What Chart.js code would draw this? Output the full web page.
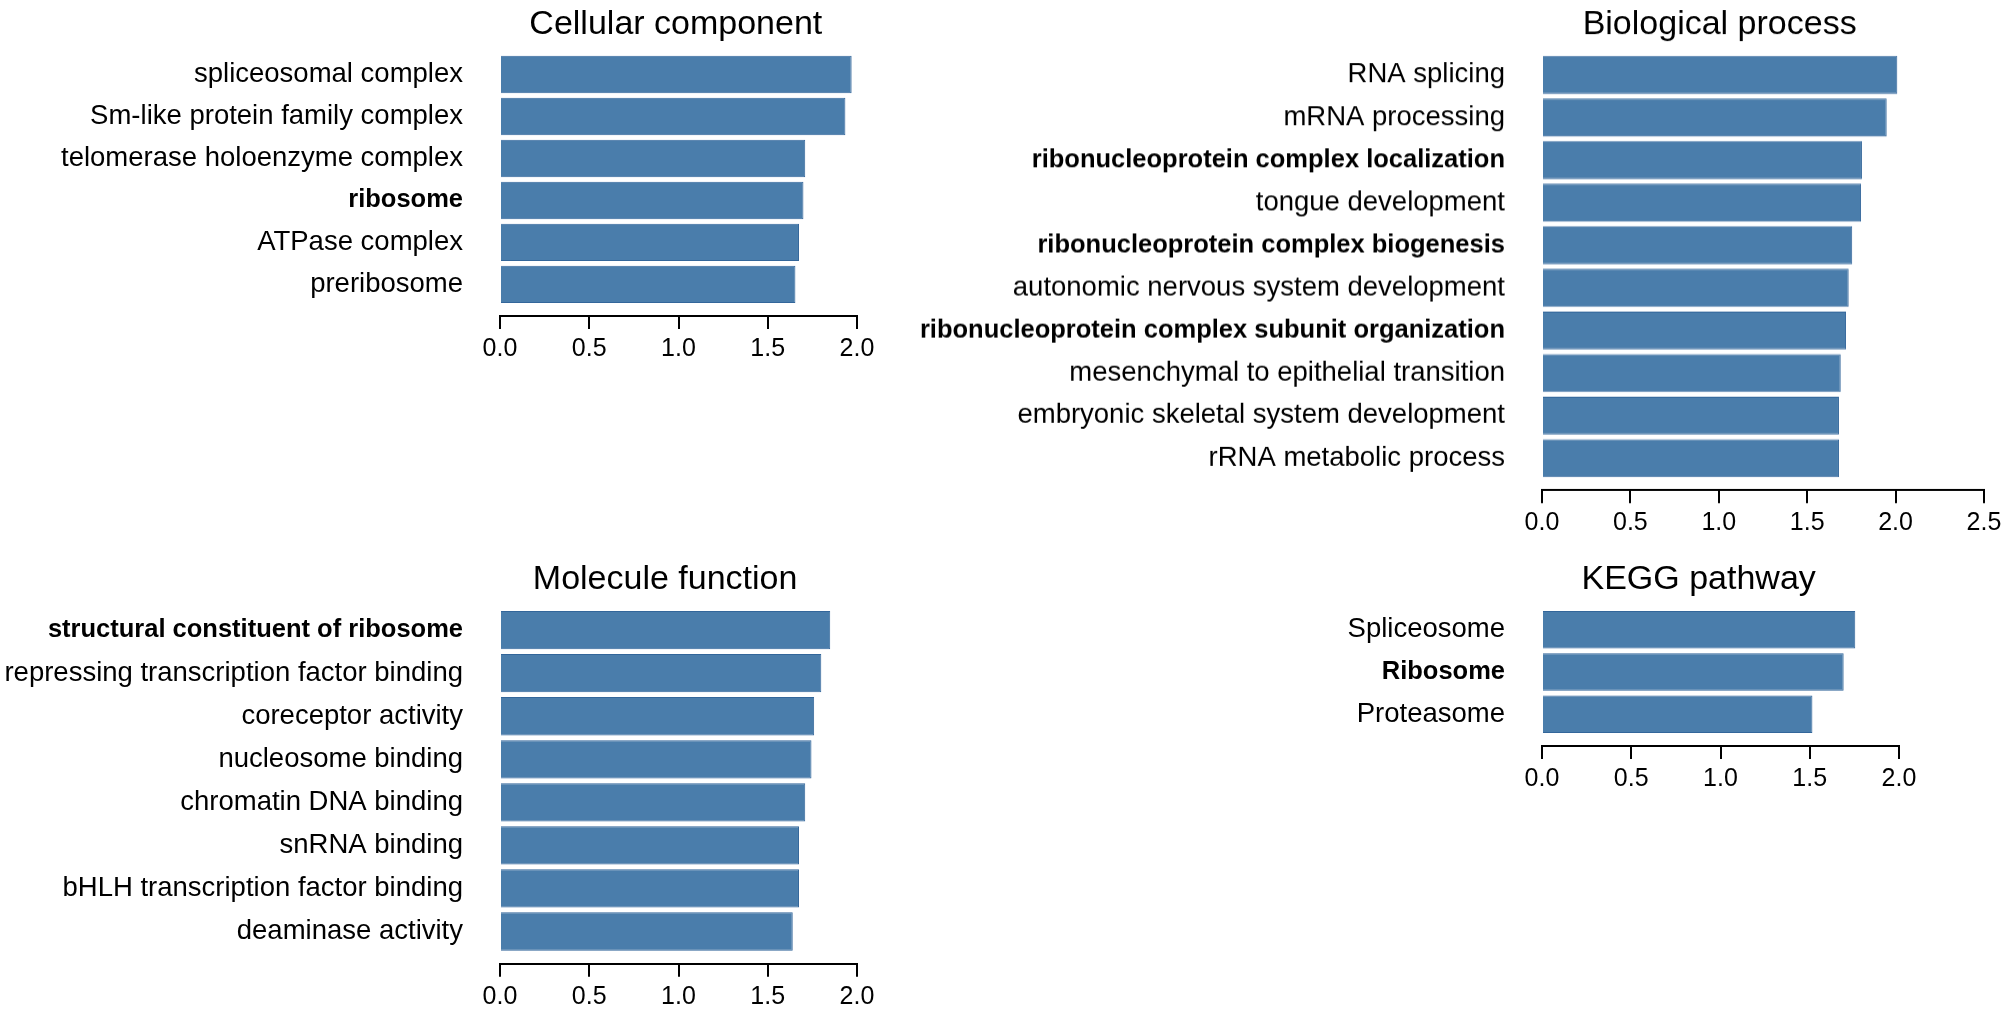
<!DOCTYPE html>
<html>
<head>
<meta charset="utf-8">
<title>GO and KEGG enrichment</title>
<script src="https://cdn.jsdelivr.net/npm/chart.js@4.4.1/dist/chart.umd.min.js"></script>
<style>
  html, body { margin: 0; padding: 0; background: #fff; overflow: hidden; }
  body { width: 2008px; height: 1013px; position: relative; }
  .panel { position: absolute; }
</style>
</head>
<body>
<div class="panel" id="panelCC"><canvas id="chartCC"></canvas></div>
<div class="panel" id="panelBP"><canvas id="chartBP"></canvas></div>
<div class="panel" id="panelMF"><canvas id="chartMF"></canvas></div>
<div class="panel" id="panelKEGG"><canvas id="chartKEGG"></canvas></div>
<script>
// Datos
const ccLabels = ['spliceosomal complex', 'Sm-like protein family complex', 'telomerase holoenzyme complex',
    'ribosome', 'ATPase complex', 'preribosome'];
const ccValues = [1.97, 1.935, 1.71, 1.70, 1.675, 1.655];

const bpLabels = ['RNA splicing', 'mRNA processing', 'ribonucleoprotein complex localization',
    'tongue development', 'ribonucleoprotein complex biogenesis', 'autonomic nervous system development',
    'ribonucleoprotein complex subunit organization', 'mesenchymal to epithelial transition',
    'embryonic skeletal system development', 'rRNA metabolic process'];
const bpValues = [2.01, 1.95, 1.81, 1.805, 1.755, 1.735, 1.72, 1.69, 1.68, 1.68];

const mfLabels = ['structural constituent of ribosome', 'repressing transcription factor binding',
    'coreceptor activity', 'nucleosome binding', 'chromatin DNA binding', 'snRNA binding',
    'bHLH transcription factor binding', 'deaminase activity'];
const mfValues = [1.85, 1.80, 1.76, 1.745, 1.71, 1.675, 1.675, 1.64];

const keggLabels = ['Spliceosome', 'Ribosome', 'Proteasome'];
const keggValues = [1.755, 1.69, 1.515];

// terms printed in bold
const boldTerms = ['ribosome', 'ribonucleoprotein complex localization', 'ribonucleoprotein complex biogenesis',
    'ribonucleoprotein complex subunit organization', 'structural constituent of ribosome', 'Ribosome'];

const FONT = '"Liberation Sans", Arial, Helvetica, sans-serif';
const PITCH = 43.33;    // alto de cada fila de barra
const UNIT_PX = 178.5;  // px por 1.0 en el eje x
const AXIS_H = 50;

// titulo centrado sobre la mitad de la barra mas larga (como barplot de R)
const panelTitle = {
    id: 'panelTitle',
    afterDraw(chart, args, opts) {
        const ctx = chart.ctx;
        const x = chart.scales.x.getPixelForValue(opts.center);
        ctx.save();
        ctx.font = '34px ' + FONT;
        ctx.fillStyle = '#000';
        ctx.textAlign = 'center';
        ctx.textBaseline = 'alphabetic';
        ctx.fillText(opts.text, x, chart.chartArea.top - 20);
        ctx.restore();
    }
};

function isBold(labels, c) {
    return !!(c.tick && boldTerms.includes(labels[c.tick.value]));
}

function initPanel(id, box, title, labels, values, axisMax) {
    const wrap = document.getElementById('panel' + id);
    wrap.style.left = box.left + 'px';
    wrap.style.top = box.top + 'px';
    wrap.style.width = (box.labelW + axisMax * UNIT_PX + box.padRight) + 'px';
    wrap.style.height = (box.padTop + (labels.length + 0.25) * PITCH + AXIS_H) + 'px';

    return new Chart(document.getElementById('chart' + id), {
        type: 'bar',
        data: {
            datasets: [{
                data: values.map((v, i) => ({ x: v, y: i })),
                backgroundColor: '#4A7DAB',
                borderColor: '#33669A',
                borderWidth: 1,
                barPercentage: 0.89,
                categoryPercentage: 1
            }]
        },
        options: {
            indexAxis: 'y',
            responsive: true,
            maintainAspectRatio: false,
            animation: false,
            layout: { padding: { top: box.padTop, right: box.padRight, bottom: 0, left: 0 } },
            scales: {
                x: {
                    type: 'linear',
                    position: 'bottom',
                    min: 0,
                    max: axisMax,
                    bounds: 'data',
                    grid: { drawOnChartArea: false, drawTicks: true, tickLength: 13, color: '#000', lineWidth: 2 },
                    border: { display: true, color: '#000', width: 2 },
                    ticks: {
                        stepSize: 0.5,
                        padding: 5,
                        color: '#000',
                        autoSkip: false,
                        maxRotation: 0,
                        font: { family: FONT, size: 25 },
                        callback: v => Number(v).toFixed(1)
                    },
                    afterFit: s => { s.height = AXIS_H; }
                },
                y: {
                    type: 'linear',
                    reverse: true,
                    offset: false,
                    min: -0.5,
                    max: labels.length - 0.25,
                    bounds: 'data',
                    grid: { display: false, drawTicks: false, offset: false },
                    border: { display: false },
                    ticks: {
                        autoSkip: false,
                        padding: 37,
                        color: '#000',
                        font: c => ({
                            family: FONT,
                            size: isBold(labels, c) ? 25.5 : 27.5,
                            weight: isBold(labels, c) ? 'bold' : 'normal'
                        }),
                        callback: v => labels[v] ?? ''
                    },
                    // one tick per term, at its row index
                    afterBuildTicks: s => { s.ticks = labels.map((_, i) => ({ value: i })); },
                    afterFit: s => { s.width = box.labelW; }
                }
            },
            plugins: {
                legend: { display: false },
                tooltip: { enabled: false },
                panelTitle: { text: title, center: Math.max(...values) / 2 }
            }
        },
        plugins: [panelTitle]
    });
}

document.addEventListener('DOMContentLoaded', function () {
    initPanel('CC', { left: 0, top: 0, labelW: 500, padTop: 48.6, padRight: 40 },
        'Cellular component', ccLabels, ccValues, 2.0);
    initPanel('BP', { left: 880, top: 0, labelW: 662, padTop: 48.6, padRight: 18 },
        'Biological process', bpLabels, bpValues, 2.5);
    initPanel('MF', { left: 0, top: 540, labelW: 500, padTop: 68.6, padRight: 40 },
        'Molecule function', mfLabels, mfValues, 2.0);
    initPanel('KEGG', { left: 880, top: 540, labelW: 662, padTop: 68.6, padRight: 40 },
        'KEGG pathway', keggLabels, keggValues, 2.0);
});
</script>
</body>
</html>
